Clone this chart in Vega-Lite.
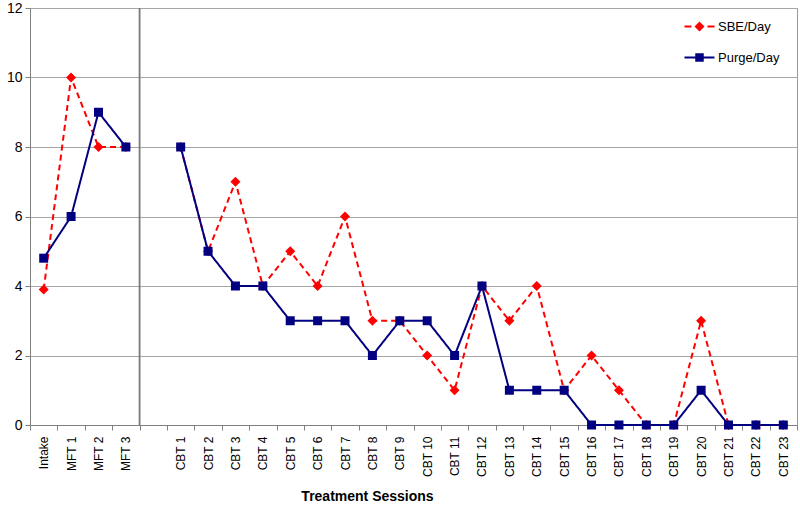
{
  "$schema": "https://vega.github.io/schema/vega-lite/v6.json",
  "width": 767,
  "height": 417,
  "autosize": {"type": "none"},
  "padding": {"left": 30, "top": 8, "right": 3, "bottom": 80},
  "background": "white",
  "config": {
    "font": "Liberation Sans",
    "view": {"stroke": "#9a9a9a", "strokeWidth": 1}
  },
  "datasets": {
    "sessions": [
      {"session": "Intake", "phase": "MFT", "series": "SBE/Day", "value": 3.9},
      {"session": "MFT 1", "phase": "MFT", "series": "SBE/Day", "value": 10},
      {"session": "MFT 2", "phase": "MFT", "series": "SBE/Day", "value": 8},
      {"session": "MFT 3", "phase": "MFT", "series": "SBE/Day", "value": 8},
      {"session": "CBT 1", "phase": "CBT", "series": "SBE/Day", "value": 8},
      {"session": "CBT 2", "phase": "CBT", "series": "SBE/Day", "value": 5},
      {"session": "CBT 3", "phase": "CBT", "series": "SBE/Day", "value": 7},
      {"session": "CBT 4", "phase": "CBT", "series": "SBE/Day", "value": 4},
      {"session": "CBT 5", "phase": "CBT", "series": "SBE/Day", "value": 5},
      {"session": "CBT 6", "phase": "CBT", "series": "SBE/Day", "value": 4},
      {"session": "CBT 7", "phase": "CBT", "series": "SBE/Day", "value": 6},
      {"session": "CBT 8", "phase": "CBT", "series": "SBE/Day", "value": 3},
      {"session": "CBT 9", "phase": "CBT", "series": "SBE/Day", "value": 3},
      {"session": "CBT 10", "phase": "CBT", "series": "SBE/Day", "value": 2},
      {"session": "CBT 11", "phase": "CBT", "series": "SBE/Day", "value": 1},
      {"session": "CBT 12", "phase": "CBT", "series": "SBE/Day", "value": 4},
      {"session": "CBT 13", "phase": "CBT", "series": "SBE/Day", "value": 3},
      {"session": "CBT 14", "phase": "CBT", "series": "SBE/Day", "value": 4},
      {"session": "CBT 15", "phase": "CBT", "series": "SBE/Day", "value": 1},
      {"session": "CBT 16", "phase": "CBT", "series": "SBE/Day", "value": 2},
      {"session": "CBT 17", "phase": "CBT", "series": "SBE/Day", "value": 1},
      {"session": "CBT 18", "phase": "CBT", "series": "SBE/Day", "value": 0},
      {"session": "CBT 19", "phase": "CBT", "series": "SBE/Day", "value": 0},
      {"session": "CBT 20", "phase": "CBT", "series": "SBE/Day", "value": 3},
      {"session": "CBT 21", "phase": "CBT", "series": "SBE/Day", "value": 0},
      {"session": "CBT 22", "phase": "CBT", "series": "SBE/Day", "value": 0},
      {"session": "CBT 23", "phase": "CBT", "series": "SBE/Day", "value": 0},
      {"session": "Intake", "phase": "MFT", "series": "Purge/Day", "value": 4.8},
      {"session": "MFT 1", "phase": "MFT", "series": "Purge/Day", "value": 6},
      {"session": "MFT 2", "phase": "MFT", "series": "Purge/Day", "value": 9},
      {"session": "MFT 3", "phase": "MFT", "series": "Purge/Day", "value": 8},
      {"session": "CBT 1", "phase": "CBT", "series": "Purge/Day", "value": 8},
      {"session": "CBT 2", "phase": "CBT", "series": "Purge/Day", "value": 5},
      {"session": "CBT 3", "phase": "CBT", "series": "Purge/Day", "value": 4},
      {"session": "CBT 4", "phase": "CBT", "series": "Purge/Day", "value": 4},
      {"session": "CBT 5", "phase": "CBT", "series": "Purge/Day", "value": 3},
      {"session": "CBT 6", "phase": "CBT", "series": "Purge/Day", "value": 3},
      {"session": "CBT 7", "phase": "CBT", "series": "Purge/Day", "value": 3},
      {"session": "CBT 8", "phase": "CBT", "series": "Purge/Day", "value": 2},
      {"session": "CBT 9", "phase": "CBT", "series": "Purge/Day", "value": 3},
      {"session": "CBT 10", "phase": "CBT", "series": "Purge/Day", "value": 3},
      {"session": "CBT 11", "phase": "CBT", "series": "Purge/Day", "value": 2},
      {"session": "CBT 12", "phase": "CBT", "series": "Purge/Day", "value": 4},
      {"session": "CBT 13", "phase": "CBT", "series": "Purge/Day", "value": 1},
      {"session": "CBT 14", "phase": "CBT", "series": "Purge/Day", "value": 1},
      {"session": "CBT 15", "phase": "CBT", "series": "Purge/Day", "value": 1},
      {"session": "CBT 16", "phase": "CBT", "series": "Purge/Day", "value": 0},
      {"session": "CBT 17", "phase": "CBT", "series": "Purge/Day", "value": 0},
      {"session": "CBT 18", "phase": "CBT", "series": "Purge/Day", "value": 0},
      {"session": "CBT 19", "phase": "CBT", "series": "Purge/Day", "value": 0},
      {"session": "CBT 20", "phase": "CBT", "series": "Purge/Day", "value": 1},
      {"session": "CBT 21", "phase": "CBT", "series": "Purge/Day", "value": 0},
      {"session": "CBT 22", "phase": "CBT", "series": "Purge/Day", "value": 0},
      {"session": "CBT 23", "phase": "CBT", "series": "Purge/Day", "value": 0}
    ],
    "divider": [{"session": "gap"}]
  },
  "resolve": {"scale": {"color": "independent"}, "legend": {"color": "independent"}},
  "layer": [
    {
      "data": {"name": "divider"},
      "mark": {"type": "rule", "color": "#7a7a7a", "strokeWidth": 1.8},
      "encoding": {
        "x": {
          "field": "session",
          "type": "nominal",
          "bandPosition": 0,
          "scale": {
            "type": "band",
            "paddingInner": 0,
            "paddingOuter": 0,
            "domain": ["Intake", "MFT 1", "MFT 2", "MFT 3", "gap", "CBT 1", "CBT 2", "CBT 3", "CBT 4", "CBT 5", "CBT 6", "CBT 7", "CBT 8", "CBT 9", "CBT 10", "CBT 11", "CBT 12", "CBT 13", "CBT 14", "CBT 15", "CBT 16", "CBT 17", "CBT 18", "CBT 19", "CBT 20", "CBT 21", "CBT 22", "CBT 23"]
          },
          "axis": {
            "orient": "bottom",
            "title": "Treatment Sessions",
            "titleFontSize": 14,
            "titleFontWeight": "bold",
            "titleColor": "black",
            "titleX": 337,
            "titleY": 75,
            "titleAlign": "center",
            "titleBaseline": "alphabetic",
            "labelExpr": "datum.value == 'gap' ? '' : datum.value",
            "labelAngle": -90,
            "labelAlign": "right",
            "labelBaseline": "middle",
            "labelFontSize": 12,
            "labelColor": "black",
            "labelPadding": 6,
            "labelOverlap": false,
            "tickBand": "extent",
            "tickSize": 5,
            "tickColor": "#808080",
            "domainColor": "#808080",
            "grid": false
          }
        }
      }
    },
    {
      "data": {"name": "sessions"},
      "mark": {"type": "line", "strokeWidth": 2},
      "encoding": {
        "x": {"field": "session", "type": "nominal", "bandPosition": 0.5},
        "y": {
          "field": "value",
          "type": "quantitative",
          "scale": {"domain": [0, 12], "nice": false},
          "axis": {
            "title": null,
            "values": [0, 2, 4, 6, 8, 10, 12],
            "labelFontSize": 14,
            "labelColor": "black",
            "labelPadding": 3,
            "tickSize": 5,
            "tickColor": "#808080",
            "domainColor": "#808080",
            "gridColor": "#a6a6a6",
            "gridWidth": 1
          }
        },
        "detail": {"field": "phase"},
        "color": {
          "field": "series",
          "type": "nominal",
          "scale": {"domain": ["SBE/Day", "Purge/Day"], "range": ["#ff0000", "#000080"]},
          "legend": null
        },
        "strokeDash": {
          "field": "series",
          "type": "nominal",
          "scale": {"domain": ["SBE/Day", "Purge/Day"], "range": [[6, 4], [1, 0]]},
          "legend": null
        }
      }
    },
    {
      "data": {"name": "sessions"},
      "transform": [{"filter": "datum.series === 'SBE/Day'"}],
      "mark": {"type": "point", "shape": "diamond", "filled": true, "opacity": 1, "size": 100},
      "encoding": {
        "x": {"field": "session", "type": "nominal", "bandPosition": 0.5},
        "y": {"field": "value", "type": "quantitative"},
        "color": {
          "field": "series",
          "type": "nominal",
          "scale": {"domain": ["SBE/Day"], "range": ["#ff0000"]},
          "legend": {
            "title": null,
            "orient": "none",
            "legendX": 663,
            "legendY": 12,
            "labelFontSize": 13,
            "labelColor": "black",
            "symbolType": "M-3,-0.2H-1.6V0.2H-3ZM1.6,-0.2H3V0.2H1.6ZM0,-1L1,0L0,1L-1,0Z",
            "symbolSize": 100,
            "symbolStrokeWidth": 0,
            "symbolOpacity": 1,
            "labelOffset": 12
          }
        }
      }
    },
    {
      "data": {"name": "sessions"},
      "transform": [{"filter": "datum.series === 'Purge/Day'"}],
      "mark": {"type": "point", "shape": "square", "filled": true, "opacity": 1, "size": 81},
      "encoding": {
        "x": {"field": "session", "type": "nominal", "bandPosition": 0.5},
        "y": {"field": "value", "type": "quantitative"},
        "color": {
          "field": "series",
          "type": "nominal",
          "scale": {"domain": ["Purge/Day"], "range": ["#000080"]},
          "legend": {
            "title": null,
            "orient": "none",
            "legendX": 663,
            "legendY": 43,
            "labelFontSize": 13,
            "labelColor": "black",
            "symbolType": "M-3,-0.2H3V0.2H-3ZM-0.85,-0.85H0.85V0.85H-0.85Z",
            "symbolSize": 100,
            "symbolStrokeWidth": 0,
            "symbolOpacity": 1,
            "labelOffset": 12
          }
        }
      }
    }
  ]
}
